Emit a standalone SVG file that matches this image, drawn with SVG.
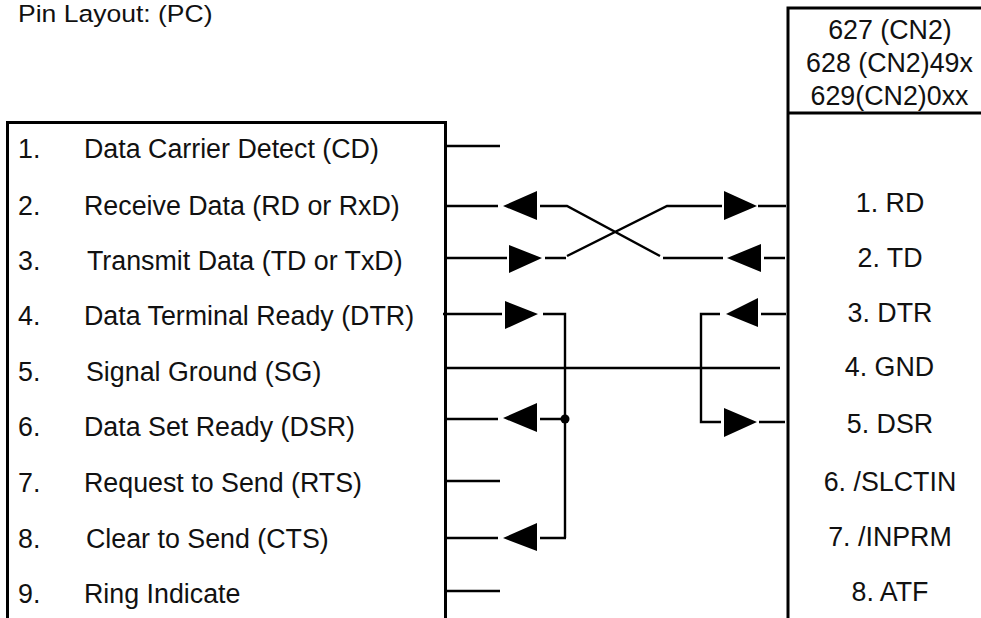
<svg xmlns="http://www.w3.org/2000/svg" width="981" height="618" viewBox="0 0 981 618">
<style>
text{font-family:"Liberation Sans",Arial,sans-serif;font-size:26.8px;fill:#111}
.m{text-anchor:middle}
.b{fill:none;stroke:#000;stroke-width:3}
.c{fill:none;stroke:#000;stroke-width:2.4}
.a{fill:#000;stroke:none}
</style>
<rect width="981" height="618" fill="#fff"/>
<text x="18" y="22" style="font-size:24.5px" textLength="194.500" lengthAdjust="spacingAndGlyphs">Pin Layout: (PC)</text>
<g id="pc">
<path class="b" d="M7.5 618V122.5H445.5V618"/>
<text x="18" y="158">1.</text><text x="84" y="158">Data Carrier Detect (CD)</text>
<text x="18" y="215">2.</text><text x="84" y="215">Receive Data (RD or RxD)</text>
<text x="18" y="270">3.</text><text x="87" y="270">Transmit Data (TD or TxD)</text>
<text x="18" y="325">4.</text><text x="84" y="325">Data Terminal Ready (DTR)</text>
<text x="18" y="381">5.</text><text x="86" y="381">Signal Ground (SG)</text>
<text x="18" y="436">6.</text><text x="84" y="436">Data Set Ready (DSR)</text>
<text x="18" y="492">7.</text><text x="84" y="492">Request to Send (RTS)</text>
<text x="18" y="548">8.</text><text x="86" y="548">Clear to Send (CTS)</text>
<text x="18" y="603">9.</text><text x="84" y="603">Ring Indicate</text>
</g>
<g id="cn2">
<path class="b" d="M788 618V8H981M788 113H981"/>
<text class="m" x="890" y="39">627 (CN2)</text>
<text class="m" x="889.500" y="72">628 (CN2)49x</text>
<text class="m" x="889.500" y="105">629(CN2)0xx</text>
<text class="m" x="890" y="212">1. RD</text>
<text class="m" x="890" y="267">2. TD</text>
<text class="m" x="890" y="322">3. DTR</text>
<text class="m" x="889.500" y="376">4. GND</text>
<text class="m" x="890" y="433">5. DSR</text>
<text class="m" x="890" y="491">6. /SLCTIN</text>
<text class="m" x="890" y="546">7. /INPRM</text>
<text class="m" x="890" y="601">8. ATF</text>
</g>
<g id="connectors">
<path class="c" d="M445 146H500M445 206H498M540 206H567L660 256M445 258H507M545 258H566M567 256L667 206H722M758 206H786M663 258H723M764 258H785"/>
<path class="c" d="M443 314H502M543 314H565V538M540 419H565M445 419H498M445 538H498M540 538H566"/>
<path class="c" d="M447 368H780M445 481H500M445 591H500"/>
<path class="c" d="M720 314H701V422H721M761 314H786M759 422H785"/>
<circle class="a" cx="565" cy="419" r="4.5"/>
<path class="a" d="M503 206L537 191V220ZM509 245L542 258L509 273ZM724 191L757 206L724 220ZM727 258L761 244V272ZM505 301L538 314L505 329ZM726 314L758 298V327ZM724 408L757 422L724 437ZM503 418L537 403V432ZM503 538L537 523V551Z"/>
</g>
</svg>
